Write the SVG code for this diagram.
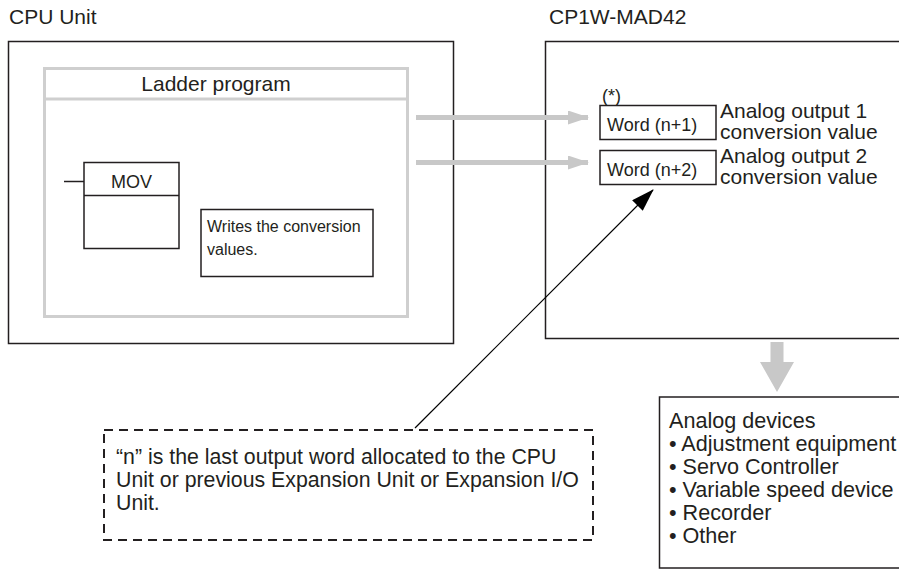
<svg xmlns="http://www.w3.org/2000/svg" width="899" height="570" viewBox="0 0 899 570">
<style>
text{font-family:"Liberation Sans",Arial,sans-serif;fill:#231f20}
.l{font-size:21px}
.d{font-size:21.3px}
.li{font-size:21.6px}
.m{font-size:18px}
.s{font-size:16px}
.box{fill:#fff;stroke:#231f20;stroke-width:1.5}
.gbox{fill:#fff;stroke:#cfcfcf;stroke-width:3}
.gray{stroke:#c8c8c8;stroke-width:5;fill:none}
.grayf{fill:#c8c8c8}
</style>
<defs>
<marker id="ah" markerWidth="22" markerHeight="16" refX="20" refY="7" orient="auto" markerUnits="userSpaceOnUse">
<path d="M0,0 L21,7 L0,14 Z" fill="#c8c8c8"/>
</marker>
<marker id="bk" markerWidth="24" markerHeight="16" refX="22" refY="7.5" orient="auto" markerUnits="userSpaceOnUse">
<path d="M0,0 L23,7.5 L0,15 Z" fill="#000"/>
</marker>
</defs>

<g id="cpu">
<text class="l" x="9" y="24">CPU Unit</text>
<rect class="box" x="8.5" y="41.5" width="445" height="302"/>
</g>

<g id="ladder">
<rect class="gbox" x="44.5" y="68.5" width="363" height="248"/>
<line x1="44.5" y1="99" x2="407.5" y2="99" stroke="#cfcfcf" stroke-width="3"/>
<text class="l" x="216" y="91" text-anchor="middle">Ladder program</text>
</g>

<g id="mov">
<line x1="64" y1="181.5" x2="84" y2="181.5" stroke="#231f20" stroke-width="1.5"/>
<rect class="box" x="84" y="162.5" width="95" height="86"/>
<line x1="84" y1="195.5" x2="179" y2="195.5" stroke="#231f20" stroke-width="1.5"/>
<text class="m" x="131.5" y="188" text-anchor="middle">MOV</text>
</g>

<g id="writes">
<rect class="box" x="201" y="209.5" width="172" height="67"/>
<text class="s" x="207" y="232">Writes the conversion</text>
<text class="s" x="207" y="255">values.</text>
</g>

<g id="mad42">
<text class="l" x="549" y="24">CP1W-MAD42</text>
<rect class="box" x="545.5" y="41.5" width="360" height="297"/>
<text class="m" x="602" y="102">(*)</text>
</g>

<g id="word1">
<rect class="box" x="600" y="105.5" width="116" height="34"/>
<text class="m" x="607" y="131">Word (n+1)</text>
<text class="l" x="720" y="118">Analog output 1</text>
<text class="l" x="720" y="139">conversion value</text>
</g>

<g id="word2">
<rect class="box" x="600" y="150.5" width="116" height="34"/>
<text class="m" x="607" y="176">Word (n+2)</text>
<text class="l" x="720" y="163">Analog output 2</text>
<text class="l" x="720" y="184">conversion value</text>
</g>

<g id="devices">
<rect class="box" x="659.5" y="397" width="250" height="171"/>
<text class="li" x="669" y="428">Analog devices</text>
<text class="li" x="669" y="451">• Adjustment equipment</text>
<text class="li" x="669" y="474">• Servo Controller</text>
<text class="li" x="669" y="497">• Variable speed device</text>
<text class="li" x="669" y="520">• Recorder</text>
<text class="li" x="669" y="543">• Other</text>
</g>

<g id="note">
<rect x="104" y="430" width="489" height="110" fill="none" stroke="#231f20" stroke-width="2" stroke-dasharray="9,6"/>
<text class="d" x="116" y="464">“n” is the last output word allocated to the CPU</text>
<text class="d" x="116" y="487">Unit or previous Expansion Unit or Expansion I/O</text>
<text class="d" x="116" y="510">Unit.</text>
</g>

<g id="connectors">
<line class="gray" x1="416" y1="117.5" x2="588" y2="117.5" marker-end="url(#ah)"/>
<line class="gray" x1="416" y1="162.5" x2="588" y2="162.5" marker-end="url(#ah)"/>
<path class="grayf" d="M770.5,342 L783.5,342 L783.5,362 L794,362 L777,392 L760,362 L770.5,362 Z"/>
<line x1="415" y1="428" x2="653" y2="190" stroke="#000" stroke-width="1.2" marker-end="url(#bk)"/>
</g>
</svg>
